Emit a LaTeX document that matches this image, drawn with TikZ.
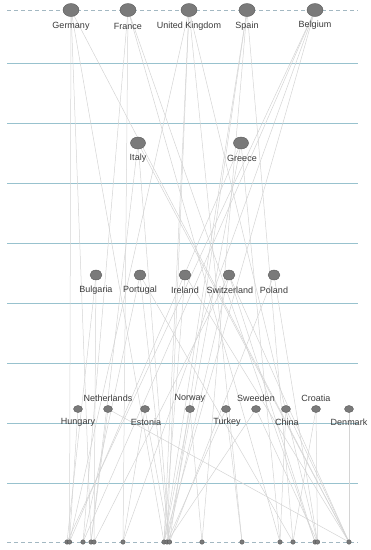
\documentclass[tikz,border=0pt]{standalone}
\usepackage{fontspec}
\setmainfont{Liberation Sans}
\usetikzlibrary{backgrounds}
\definecolor{nodefill}{HTML}{7A7A7A}
\definecolor{nodedraw}{HTML}{5A5A5A}
\definecolor{rulecol}{HTML}{98C2CE}
\definecolor{dashcol}{HTML}{A3B8C2}
\definecolor{edgecol}{HTML}{D4D4D4}
\definecolor{txtcol}{HTML}{3A3A3A}
\tikzset{
  big/.style={ellipse,draw=nodedraw,fill=nodefill,line width=0.4pt,minimum width=16pt,minimum height=13pt,inner sep=0pt},
  mid/.style={big,minimum width=15pt,minimum height=12pt},
  sml/.style={big,minimum width=12pt,minimum height=10pt},
  tiny/.style={big,minimum width=9pt,minimum height=7pt},
  dot/.style={big,minimum width=4.5pt,minimum height=4.5pt},
  lbl/.style={font=\fontsize{9}{10}\selectfont,text=txtcol,inner sep=0pt},
  rule/.style={draw=rulecol,line width=1pt},
  dashrule/.style={draw=dashcol,line width=0.7pt,dash pattern=on 4pt off 3pt},
  edge/.style={draw=edgecol,line width=0.5pt}
}
\usetikzlibrary{shapes.geometric}
\begin{document}
\begin{tikzpicture}[x=1pt,y=-1pt]
\useasboundingbox (0,0) rectangle (371,550);
% rules
\coordinate (tl) at (7,10); \coordinate (tr) at (358,10);
\coordinate (bl) at (7,542); \coordinate (br) at (358,542);
\foreach \y [count=\i] in {63,123,183,243,303,363,423,483}{
  \coordinate (rl\i) at (7,\y); \coordinate (rr\i) at (358,\y);
}
% top row
\node[big] (ger) at (71,10) {};
\node[big] (fra) at (128,10) {};
\node[big] (uk) at (189,10) {};
\node[big] (spa) at (247,10) {};
\node[big] (bel) at (315,10) {};
\node[lbl] (lger) at (71,26) {Germany};
\node[lbl] (lfra) at (128,26) {France};
\node[lbl] (luk) at (189,26) {United Kingdom};
\node[lbl] (lspa) at (247,26) {Spain};
\node[lbl] (lbel) at (315,25) {Belgium};
% second row
\node[mid] (ita) at (138,143) {};
\node[mid] (gre) at (241,143) {};
\node[lbl] (lita) at (138,158) {Italy};
\node[lbl] (lgre) at (242,158) {Greece};
% third row
\node[sml] (bul) at (96,275) {};
\node[sml] (por) at (140,275) {};
\node[sml] (ire) at (185,275) {};
\node[sml] (swi) at (229,275) {};
\node[sml] (pol) at (274,275) {};
\node[lbl] (lbul) at (96,290) {Bulgaria};
\node[lbl] (lpor) at (140,290) {Portugal};
\node[lbl] (lire) at (185,290) {Ireland};
\node[lbl] (lswi) at (230,290) {Switzerland};
\node[lbl] (lpol) at (274,290) {Poland};
% fourth row
\node[tiny] (hun) at (78,409) {};
\node[tiny] (net) at (108,409) {};
\node[tiny] (est) at (145,409) {};
\node[tiny] (nor) at (190,409) {};
\node[tiny] (tur) at (226,409) {};
\node[tiny] (swe) at (256,409) {};
\node[tiny] (chi) at (286,409) {};
\node[tiny] (cro) at (316,409) {};
\node[tiny] (den) at (349,409) {};
\node[lbl] (lhun) at (78,422) {Hungary};
\node[lbl] (lnet) at (108,398) {Netherlands};
\node[lbl] (lest) at (146,422) {Estonia};
\node[lbl] (lnor) at (190,398) {Norway};
\node[lbl] (ltur) at (227,422) {Turkey};
\node[lbl] (lswe) at (256,398) {Sweeden};
\node[lbl] (lchi) at (287,422) {China};
\node[lbl] (lcro) at (316,398) {Croatia};
\node[lbl] (lden) at (349,422) {Denmark};
% bottom dots
\foreach \x [count=\i] in {67,69.5,83,91,94,123,164,167,169.5,202,242,280,293,315,317.5,349}{
  \node[dot] (b\i) at (\x,542) {};
}
\begin{scope}[on background layer]
\draw[dashrule] (tl) -- (tr);
\draw[dashrule] (bl) -- (br);
\foreach \i in {1,...,8}{ \draw[rule] (rl\i) -- (rr\i); }
% edges
\foreach \s/\t in {
 ger/b4, ger/b7, ger/b16, ger/b2,
 fra/b3, fra/b6, fra/b12, fra/b14,
 uk/b2, uk/b8, uk/b11, uk/b15, uk/b7,
 spa/b7, spa/b10, spa/b13, spa/b9,
 bel/b1, bel/b3, bel/b6, bel/b7,
 ita/b4, ita/b9, ita/b16,
 gre/b8, gre/b12, gre/b2,
 bul/b1, bul/b5,
 por/b3, por/b9, por/b13,
 ire/b7, ire/b16,
 swi/b5, swi/b8, swi/b14, swi/b16,
 pol/b9, pol/b15,
 hun/b2, net/b4, net/b16, est/b6, est/b9,
 nor/b10, nor/b7, tur/b11, tur/b8, swe/b8, swe/b15,
 chi/b12, chi/b16, cro/b13, cro/b15, den/b16}{
  \draw[edge] (\s.center) -- (\t.center);
}
\end{scope}
\end{tikzpicture}
\end{document}
